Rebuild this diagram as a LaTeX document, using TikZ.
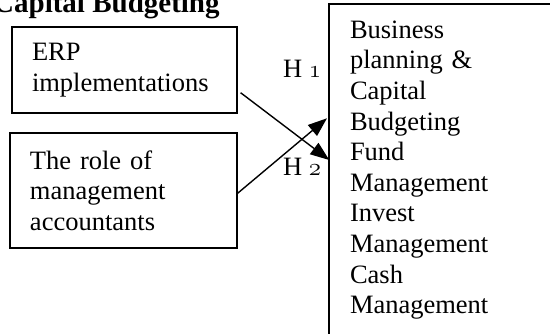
\documentclass[tikz,border=0pt]{standalone}
\usepackage{fontspec}
\setmainfont{Liberation Serif}
\usetikzlibrary{arrows.meta}
\newcommand{\osnum}[1]{{\fontencoding{OML}\fontfamily{cmm}\fontseries{m}\fontshape{it}\selectfont #1}}
\begin{document}
\begin{tikzpicture}[x=1pt,y=1pt,
  box/.style={draw, line width=1.2pt, align=left, inner ysep=0pt,
    font=\fontsize{26.5}{30.6}\selectfont},
  lbl/.style={anchor=base west, inner sep=0pt, font=\fontsize{26.5}{30.6}\selectfont},
  arr/.style={line width=1.4pt, -{Triangle[length=19pt,width=14pt]}}]
\useasboundingbox (0,0) rectangle (550,333);
\clip (0,0) rectangle (550,333);
\node[anchor=base west, inner sep=0pt, font=\fontsize{29}{31}\selectfont\bfseries] (title) at (-7,320) {Capital Budgeting};
\node[box, text width=185pt, inner xsep=20pt, minimum height=86pt] (erp) at (124.5,263) {ERP\\implementations};
\node[box, text width=187pt, inner xsep=20pt, minimum height=115pt] (role) at (123.5,142.5) {The role of\\management\\accountants};
\node[box, line width=1.5pt, text width=229pt, inner xsep=21pt, minimum height=332pt] (res) at (464.5,163) {Business\\planning \&\\Capital\\Budgeting\\Fund\\Management\\Invest\\Management\\Cash\\Management};
\node[lbl] (h1) at (283,256) {H \osnum{1}};
\node[lbl] (h2) at (283,158) {H \osnum{2}};
\draw[arr] ([shift={(3,-22.7)}]erp.east) -- ([shift={(1,10)}]res.west);
\draw[arr] ([shift={(0,-2.8)}]role.east) -- ([shift={(-1.3,51.7)}]res.west);
\end{tikzpicture}
\end{document}
